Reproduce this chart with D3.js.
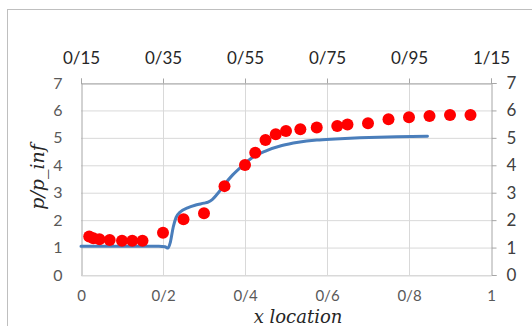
<!DOCTYPE html>
<html><head><meta charset="utf-8">
<script src="https://cdn.jsdelivr.net/npm/d3@7"></script>
<style>body{margin:0;background:#fff}svg{display:block}</style>
</head><body>
<script>
const dotX = [0.02,0.03,0.045,0.07,0.1,0.125,0.15,0.2,0.25,0.3,0.35,0.4,0.425,0.45,0.475,0.5,0.535,0.575,0.625,0.65,0.7,0.75,0.8,0.85,0.9,0.95];
const dotY = [1.40,1.34,1.30,1.28,1.25,1.25,1.25,1.54,2.03,2.25,3.24,4.01,4.46,4.92,5.13,5.25,5.31,5.38,5.43,5.49,5.53,5.68,5.75,5.80,5.83,5.83];
const lineX = [0,0.1,0.19,0.205,0.212,0.218,0.225,0.232,0.242,0.26,0.28,0.3,0.31,0.32,0.335,0.35,0.37,0.395,0.42,0.45,0.49,0.53,0.575,0.62,0.68,0.77,0.845];
const lineY = [1.05,1.05,1.05,1.03,0.98,1.2,1.75,2.1,2.3,2.45,2.55,2.62,2.66,2.75,3.0,3.3,3.65,4.0,4.3,4.52,4.72,4.84,4.92,4.96,5.0,5.04,5.06];
const bottomTicks = [0,0.2,0.4,0.6,0.8,1];
const topTicks = [0.15,0.35,0.55,0.75,0.95,1.15];
const yTicks = [0,1,2,3,4,5,6,7];
const xTitle = "x location", yTitle = "p/p_inf";

const W=532,H=326;
const svg=d3.select("body").append("svg").attr("width",W).attr("height",H);
svg.append("rect").attr("x",7.5).attr("y",9.5).attr("width",W).attr("height",H).attr("fill","#fff").attr("stroke","#bfbfbf");
const L=81,R=491,T=83,B=275;
const x=d3.scaleLinear().domain([0,1]).range([L,R]);
const x2=d3.scaleLinear().domain([0.15,1.15]).range([L,R]);
const y=d3.scaleLinear().domain([0,7]).range([B,T]);
const fmt=v=>d3.format("~g")(+v.toFixed(2)).replace(".","/");
const grid="#d9d9d9", axc="#a6a6a6";
svg.append("g").selectAll("line").data(yTicks).join("line")
  .attr("x1",L).attr("x2",R).attr("y1",d=>y(d)+0.5).attr("y2",d=>y(d)+0.5).attr("stroke",grid);
svg.append("g").selectAll("line").data(bottomTicks.slice(1,-1)).join("line")
  .attr("x1",d=>x(d)+0.5).attr("x2",d=>x(d)+0.5).attr("y1",T).attr("y2",B).attr("stroke",grid);
const fontN="Lato, 'Open Sans', sans-serif";
const gL=svg.append("g").attr("transform",`translate(${L+0.5},0)`).call(d3.axisLeft(y).tickValues(yTicks).tickSize(0).tickPadding(19).tickFormat(d3.format("d")));
const gR=svg.append("g").attr("transform",`translate(${R+0.5},0)`).call(d3.axisRight(y).tickValues(yTicks).tickSize(5).tickPadding(10).tickFormat(d3.format("d")));
const gB=svg.append("g").attr("transform",`translate(0,${B+0.5})`).call(d3.axisBottom(x).tickValues(bottomTicks).tickSize(0).tickPadding(15).tickFormat(fmt));
const gT=svg.append("g").attr("transform",`translate(0,${T+0.5})`).call(d3.axisTop(x2).tickValues(topTicks).tickSize(5).tickPadding(15).tickFormat(fmt));
for(const g of [gL,gR,gB,gT]){
  g.select(".domain").attr("stroke",axc);
  g.selectAll(".tick line").attr("stroke",axc);
  g.selectAll("text").attr("font-family",fontN).attr("font-size",16);
}
gB.selectAll("text").attr("font-size",15);
gT.selectAll("text").attr("font-size",17);
gR.selectAll("text").attr("font-size",17);
gB.select(".domain").attr("stroke",grid);
gL.selectAll("text").attr("fill","#595959");
gB.selectAll("text").attr("fill","#595959");
gR.selectAll("text").attr("fill","#404040");
gT.selectAll("text").attr("fill","#262626");
const pts=lineX.map((v,i)=>[v,lineY[i]]);
svg.append("path").datum(pts).attr("fill","none").attr("stroke","#4a7ebb").attr("stroke-width",3).attr("stroke-linecap","round")
  .attr("d",d3.line().x(d=>x(d[0])).y(d=>y(d[1])).curve(d3.curveMonotoneX));
svg.append("g").selectAll("circle").data(dotX.map((v,i)=>[v,dotY[i]])).join("circle")
  .attr("cx",d=>x(d[0])).attr("cy",d=>y(d[1])).attr("r",6).attr("fill","#ff0000");
const fontS="'DejaVu Serif', 'Liberation Serif', serif";
svg.append("text").attr("x",298).attr("y",323).attr("text-anchor","middle").attr("font-family",fontS).attr("font-style","italic").attr("font-size",18).attr("fill","#262626").text(xTitle);
svg.append("text").attr("transform","translate(44,177) rotate(-90)").attr("text-anchor","middle").attr("font-family",fontS).attr("font-style","italic").attr("font-size",19).attr("fill","#262626").text(yTitle);
</script>
</body></html>
